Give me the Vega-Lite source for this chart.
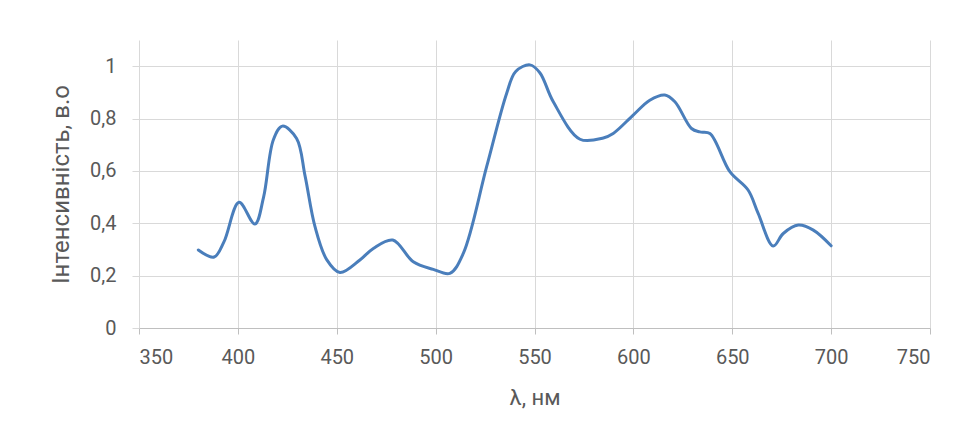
{
  "$schema": "https://vega.github.io/schema/vega-lite/v6.json",
  "width": 791,
  "height": 288,
  "autosize": {"type": "none"},
  "padding": {"left": 139, "top": 40, "right": 35, "bottom": 113},
  "background": "white",
  "config": {
    "view": {"stroke": null},
    "font": "Roboto"
  },
  "data": {
    "values": [
      {"nm": 380, "v": 0.298},
      {"nm": 388, "v": 0.271},
      {"nm": 393, "v": 0.33},
      {"nm": 400.6, "v": 0.48},
      {"nm": 408.6, "v": 0.397},
      {"nm": 413, "v": 0.5},
      {"nm": 418, "v": 0.72},
      {"nm": 422.5, "v": 0.771},
      {"nm": 429.7, "v": 0.724},
      {"nm": 434, "v": 0.58},
      {"nm": 439, "v": 0.387},
      {"nm": 445, "v": 0.26},
      {"nm": 451.6, "v": 0.212},
      {"nm": 461.7, "v": 0.26},
      {"nm": 468.5, "v": 0.304},
      {"nm": 478.3, "v": 0.336},
      {"nm": 488.7, "v": 0.253},
      {"nm": 498.8, "v": 0.224},
      {"nm": 507.2, "v": 0.209},
      {"nm": 514, "v": 0.285},
      {"nm": 525.8, "v": 0.616},
      {"nm": 535.9, "v": 0.896},
      {"nm": 540.5, "v": 0.98},
      {"nm": 547.7, "v": 1.005},
      {"nm": 552.7, "v": 0.975},
      {"nm": 559.5, "v": 0.864},
      {"nm": 573, "v": 0.721},
      {"nm": 584.8, "v": 0.726},
      {"nm": 589.8, "v": 0.743},
      {"nm": 599.9, "v": 0.813},
      {"nm": 608.3, "v": 0.87},
      {"nm": 615.9, "v": 0.89},
      {"nm": 621, "v": 0.864},
      {"nm": 629.4, "v": 0.762},
      {"nm": 633.6, "v": 0.749},
      {"nm": 638.7, "v": 0.743},
      {"nm": 648.8, "v": 0.597},
      {"nm": 658, "v": 0.527},
      {"nm": 663.1, "v": 0.438},
      {"nm": 670.7, "v": 0.313},
      {"nm": 675.8, "v": 0.361},
      {"nm": 683.4, "v": 0.393},
      {"nm": 691, "v": 0.374},
      {"nm": 700, "v": 0.314}
    ]
  },
  "mark": {"type": "line", "interpolate": "catmull-rom", "color": "#4a7ebb", "strokeWidth": 3, "strokeCap": "round"},
  "encoding": {
    "x": {
      "field": "nm",
      "type": "quantitative",
      "scale": {"domain": [350, 750], "nice": false, "zero": false},
      "axis": {
        "values": [350, 400, 450, 500, 550, 600, 650, 700, 750],
        "title": "λ, нм",
        "titleFont": "Roboto",
        "titleFontSize": 22,
        "titleFontWeight": "normal",
        "titleColor": "#595959",
        "titlePadding": 20,
        "labelFont": "Roboto",
        "labelFontSize": 20,
        "labelColor": "#595959",
        "labelPadding": 13,
        "grid": true,
        "gridColor": "#d9d9d9",
        "domainColor": "#bfbfbf",
        "tickColor": "#bfbfbf",
        "tickSize": 6
      }
    },
    "y": {
      "field": "v",
      "type": "quantitative",
      "scale": {"domain": [0, 1.1], "nice": false},
      "axis": {
        "values": [0, 0.2, 0.4, 0.6, 0.8, 1],
        "labelExpr": "replace(format(datum.value, '.1~f'), '.', ',')",
        "title": "Інтенсивність, в.о",
        "titleFont": "Roboto",
        "titleFontSize": 24,
        "titleFontWeight": "normal",
        "titleColor": "#595959",
        "titlePadding": 16,
        "labelFont": "Roboto",
        "labelFontSize": 20,
        "labelColor": "#595959",
        "labelPadding": 16,
        "grid": true,
        "gridColor": "#d9d9d9",
        "domain": false,
        "tickColor": "#d9d9d9",
        "tickSize": 7
      }
    }
  }
}
